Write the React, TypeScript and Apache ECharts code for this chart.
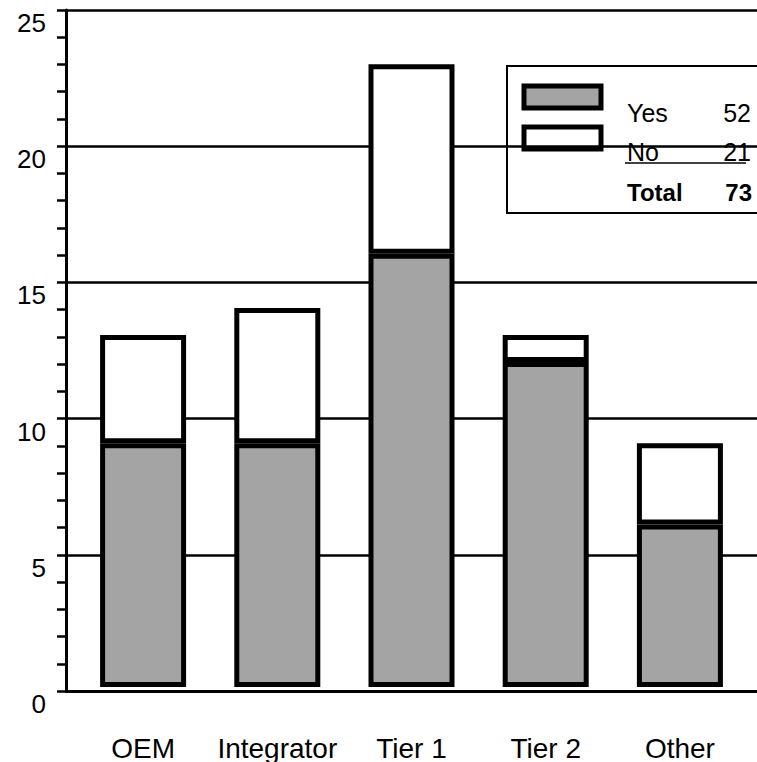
import React, { useEffect, useRef } from "react";
import * as echarts from "echarts";

const categories = ["OEM", "Integrator", "Tier 1", "Tier 2", "Other"];
const yesValues = [9, 9, 16, 12, 6];
const noValues = [4, 5, 7, 1, 3];
const legendNames = ["Yes", "No"];
const legendTotals = [52, 21];
const grandTotalLabel = "Total";
const grandTotal = 73;
const yTicks = [0, 5, 10, 15, 20, 25];

const FONT = "'Liberation Sans', Arial, Helvetica, sans-serif";
const GRAY = "#a4a4a4";

export default function App() {
  const ref = useRef<HTMLDivElement>(null);
  useEffect(() => {
    if (!ref.current) return;
    const chart = echarts.init(ref.current, undefined, { renderer: "svg" });
    const yMax = yTicks[yTicks.length - 1];
    const option: any = {
      animation: false,
      backgroundColor: "#ffffff",
      textStyle: { fontFamily: FONT },
      grid: [
        { left: 76, right: 10, top: 10, bottom: 71 },
        { left: 66, right: 0, top: 10, bottom: 71 },
      ],
      xAxis: [
        {
          type: "category",
          gridIndex: 0,
          data: categories,
          axisLine: { show: false },
          axisTick: { show: false },
          axisLabel: {
            color: "#000",
            fontSize: 28,
            fontFamily: FONT,
            margin: 47,
            interval: 0,
            hideOverlap: false,
          },
        },
        {
          type: "value",
          gridIndex: 1,
          min: 0,
          max: 1,
          axisLine: { show: true, onZero: false, lineStyle: { color: "#000", width: 3 } },
          axisTick: { show: false },
          axisLabel: { show: false },
          splitLine: { show: false },
        },
      ],
      yAxis: [
        {
          type: "value",
          gridIndex: 0,
          min: 0,
          max: yMax,
          show: false,
          splitLine: { show: false },
        },
        {
          type: "value",
          gridIndex: 1,
          min: 0,
          max: yMax,
          interval: 5,
          axisLine: { show: true, lineStyle: { color: "#000", width: 3 } },
          axisTick: { show: true, length: 9, lineStyle: { color: "#000", width: 2.5 } },
          minorTick: { show: true, splitNumber: 5, length: 9, lineStyle: { color: "#000", width: 2.5 } },
          splitLine: { show: true, lineStyle: { color: "#000", width: 2.5 } },
          axisLabel: {
            color: "#000",
            fontSize: 26,
            fontFamily: FONT,
            margin: 20,
            verticalAlign: "top",
          },
        },
      ],
      series: [
        {
          name: legendNames[0],
          type: "bar",
          stack: "s",
          xAxisIndex: 0,
          yAxisIndex: 0,
          barWidth: 86,
          data: yesValues,
          itemStyle: { color: GRAY, borderColor: "#000", borderWidth: 5 },
        },
        {
          name: legendNames[1],
          type: "bar",
          stack: "s",
          xAxisIndex: 0,
          yAxisIndex: 0,
          barWidth: 86,
          data: noValues,
          itemStyle: { color: "#fff", borderColor: "#000", borderWidth: 5 },
        },
      ],
      graphic: [
        {
          type: "group",
          z: 100,
          children: [
            {
              type: "rect",
              shape: { x: 507, y: 66, width: 280, height: 147 },
              style: { fill: "#fff", stroke: "#000", lineWidth: 2 },
            },
            {
              type: "rect",
              shape: { x: 524, y: 86, width: 77, height: 22 },
              style: { fill: GRAY, stroke: "#000", lineWidth: 5 },
            },
            {
              type: "rect",
              shape: { x: 524, y: 127, width: 77, height: 22 },
              style: { fill: "#fff", stroke: "#000", lineWidth: 5 },
            },
            {
              type: "text",
              x: 627,
              y: 113,
              style: { text: legendNames[0], fontSize: 25, fontFamily: FONT, fill: "#000", verticalAlign: "middle" },
            },
            {
              type: "text",
              x: 751,
              y: 113,
              style: { text: String(legendTotals[0]), fontSize: 25, fontFamily: FONT, fill: "#000", align: "right", verticalAlign: "middle" },
            },
            {
              type: "text",
              x: 627,
              y: 152,
              style: { text: legendNames[1], fontSize: 25, fontFamily: FONT, fill: "#000", verticalAlign: "middle" },
            },
            {
              type: "text",
              x: 751,
              y: 152,
              style: { text: String(legendTotals[1]), fontSize: 25, fontFamily: FONT, fill: "#000", align: "right", verticalAlign: "middle" },
            },
            {
              type: "line",
              shape: { x1: 625, y1: 163, x2: 746, y2: 163 },
              style: { stroke: "#000", lineWidth: 1.5 },
            },
            {
              type: "text",
              x: 627,
              y: 192,
              style: { text: grandTotalLabel, fontSize: 24, fontWeight: "bold", fontFamily: FONT, fill: "#000", verticalAlign: "middle" },
            },
            {
              type: "text",
              x: 752,
              y: 192,
              style: { text: String(grandTotal), fontSize: 24, fontWeight: "bold", fontFamily: FONT, fill: "#000", align: "right", verticalAlign: "middle" },
            },
          ],
        },
      ],
    };
    chart.setOption(option);
    return () => chart.dispose();
  }, []);
  return (
    <div
      ref={ref}
      style={{ position: "fixed", left: 0, top: 0, width: 757, height: 762, background: "#fff" }}
    />
  );
}
